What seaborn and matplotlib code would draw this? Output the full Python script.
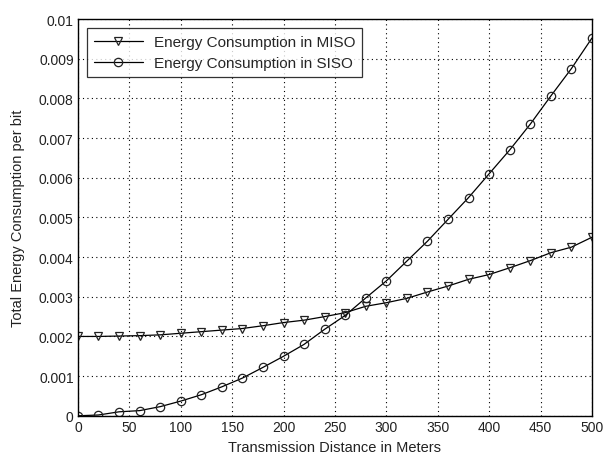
import matplotlib
matplotlib.use("Agg")
import matplotlib.pyplot as plt
import seaborn as sns
import pandas as pd
import numpy as np

distance = [0, 20, 40, 60, 80, 100, 120, 140, 160, 180, 200, 220, 240, 260,
            280, 300, 320, 340, 360, 380, 400, 420, 440, 460, 480, 500]
miso = [0.00200, 0.00200, 0.00201, 0.00202, 0.00204, 0.00208, 0.00212, 0.00216,
        0.00220, 0.00227, 0.00235, 0.00241, 0.00250, 0.00260, 0.00276, 0.00285,
        0.00296, 0.00312, 0.00327, 0.00344, 0.00356, 0.00373, 0.00391, 0.00411,
        0.00425, 0.00450]
siso = [0.00000, 0.00002, 0.00010, 0.00013, 0.00023, 0.00037, 0.00053, 0.00073,
        0.00095, 0.00122, 0.00150, 0.00180, 0.00218, 0.00253, 0.00297, 0.00340,
        0.00390, 0.00440, 0.00495, 0.00550, 0.00610, 0.00670, 0.00735, 0.00806,
        0.00875, 0.00952]
series_names = ["Energy Consumption in MISO", "Energy Consumption in SISO"]
x_ticks = [0, 50, 100, 150, 200, 250, 300, 350, 400, 450, 500]
y_ticks = [0, 0.001, 0.002, 0.003, 0.004, 0.005, 0.006, 0.007, 0.008, 0.009, 0.01]
y_tick_labels = ["0", "0.001", "0.002", "0.003", "0.004", "0.005", "0.006",
                 "0.007", "0.008", "0.009", "0.01"]

df = pd.DataFrame({
    "distance": distance * 2,
    "energy": miso + siso,
    "series": [series_names[0]] * len(distance) + [series_names[1]] * len(distance),
})

sns.set_style("white")
plt.rcParams["font.family"] = ["Liberation Sans", "DejaVu Sans"]

fig = plt.figure(figsize=(6.04, 4.56), dpi=100)
ax = fig.add_axes([0.129, 0.086, 0.851, 0.870])

sns.lineplot(data=df, x="distance", y="energy", hue="series", style="series",
             palette=["black", "black"], markers={series_names[0]: "v", series_names[1]: "o"},
             dashes=False, ax=ax, linewidth=0.9, markersize=6,
             markerfacecolor="none", markeredgecolor="#222222", markeredgewidth=0.9)

ax.set_xlim(0, 500)
ax.set_ylim(0, 0.01)
ax.set_xticks(x_ticks)
ax.set_xticklabels([str(t) for t in x_ticks])
ax.set_yticks(y_ticks)
ax.set_yticklabels(y_tick_labels)
ax.tick_params(direction="in", length=4, labelsize=10, colors="#222222", width=0.8, pad=3)
ax.grid(True, linestyle=(0, (1, 3)), color="black", linewidth=0.8)
for s in ax.spines.values():
    s.set_color("black")
    s.set_linewidth(1.0)
ax.set_xlabel("Transmission Distance in Meters", fontsize=10.5, labelpad=4, color="#222222")
ax.set_ylabel("Total Energy Consumption per bit", fontsize=10.5, labelpad=10, color="#222222")

leg = ax.legend(loc="upper left", fontsize=11, frameon=True, fancybox=False,
                edgecolor="black", borderaxespad=0.6, handlelength=3.2,
                handletextpad=0.7, borderpad=0.45, labelspacing=0.45)
leg.get_frame().set_linewidth(0.9)
for h in leg.legend_handles:
    h.set_markerfacecolor("none")
    h.set_markeredgecolor("#222222")

fig.savefig("out.png", dpi=100, facecolor="white")
